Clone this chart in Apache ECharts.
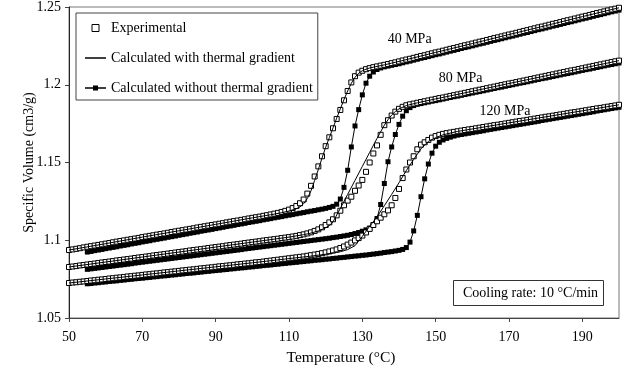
<!DOCTYPE html>
<html>
<head>
<meta charset="utf-8">
<script src="https://cdn.jsdelivr.net/npm/echarts@6/dist/echarts.min.js"></script>
<style>
  html, body { margin: 0; padding: 0; background: #fff; }
  #chart { width: 624px; height: 372px; }
</style>
</head>
<body>
<div id="chart"></div>
<script>
// Specific volume vs temperature, cooling at 10 °C/min, three holding pressures.
// Measured and "without gradient" curves are sampled every 1 °C starting at their first temperature.

const expStartT = 50;
const calcStartT = 55;
const stepT = 1;

// Experimental, 40 MPa (50..200 °C)
const exp40 = [
  1.0937,1.0941,1.0945,1.0949,1.0954,1.0958,1.0962,1.0966,1.0970,1.0974,
  1.0978,1.0982,1.0987,1.0991,1.0995,1.0999,1.1003,1.1007,1.1011,1.1015,
  1.1020,1.1024,1.1028,1.1032,1.1036,1.1040,1.1044,1.1048,1.1053,1.1057,
  1.1061,1.1065,1.1069,1.1073,1.1077,1.1082,1.1086,1.1090,1.1094,1.1098,
  1.1102,1.1106,1.1110,1.1115,1.1119,1.1123,1.1127,1.1131,1.1135,1.1140,
  1.1144,1.1148,1.1152,1.1157,1.1161,1.1166,1.1171,1.1176,1.1182,1.1189,
  1.1197,1.1207,1.1220,1.1238,1.1262,1.1300,1.1350,1.1410,1.1475,1.1540,
  1.1605,1.1662,1.1720,1.1780,1.1838,1.1900,1.1960,1.2015,1.2055,1.2078,
  1.2090,1.2100,1.2107,1.2113,1.2118,1.2123,1.2128,1.2133,1.2139,1.2144,
  1.2150,1.2156,1.2162,1.2167,1.2173,1.2179,1.2185,1.2190,1.2196,1.2202,
  1.2208,1.2213,1.2219,1.2225,1.2231,1.2236,1.2242,1.2248,1.2254,1.2259,
  1.2265,1.2271,1.2277,1.2282,1.2288,1.2294,1.2300,1.2305,1.2311,1.2317,
  1.2323,1.2328,1.2334,1.2340,1.2346,1.2351,1.2357,1.2363,1.2369,1.2374,
  1.2380,1.2386,1.2392,1.2397,1.2403,1.2409,1.2415,1.2420,1.2426,1.2432,
  1.2438,1.2443,1.2449,1.2455,1.2461,1.2466,1.2472,1.2478,1.2484,1.2489,
  1.2495
];

// Experimental, 80 MPa (50..200 °C)
const exp80 = [
  1.0828,1.0831,1.0834,1.0838,1.0841,1.0844,1.0847,1.0850,1.0854,1.0857,
  1.0860,1.0863,1.0866,1.0870,1.0873,1.0876,1.0879,1.0882,1.0886,1.0889,
  1.0892,1.0895,1.0898,1.0902,1.0905,1.0908,1.0911,1.0914,1.0918,1.0921,
  1.0924,1.0927,1.0930,1.0934,1.0937,1.0940,1.0943,1.0946,1.0950,1.0953,
  1.0956,1.0959,1.0962,1.0966,1.0969,1.0972,1.0975,1.0978,1.0982,1.0985,
  1.0988,1.0991,1.0994,1.0998,1.1001,1.1004,1.1007,1.1010,1.1014,1.1017,
  1.1020,1.1024,1.1028,1.1033,1.1038,1.1044,1.1051,1.1060,1.1070,1.1083,
  1.1098,1.1115,1.1135,1.1160,1.1190,1.1225,1.1255,1.1280,1.1318,1.1352,
  1.1388,1.1440,1.1500,1.1558,1.1610,1.1678,1.1740,1.1772,1.1802,1.1827,
  1.1845,1.1858,1.1868,1.1874,1.1879,1.1884,1.1889,1.1894,1.1899,1.1904,
  1.1909,1.1914,1.1918,1.1923,1.1928,1.1933,1.1938,1.1943,1.1948,1.1953,
  1.1958,1.1963,1.1968,1.1973,1.1978,1.1983,1.1988,1.1993,1.1998,1.2003,
  1.2008,1.2012,1.2017,1.2022,1.2027,1.2032,1.2037,1.2042,1.2047,1.2052,
  1.2057,1.2062,1.2067,1.2072,1.2077,1.2082,1.2087,1.2092,1.2096,1.2101,
  1.2106,1.2111,1.2116,1.2121,1.2126,1.2131,1.2136,1.2141,1.2146,1.2151,
  1.2155
];

// Experimental, 120 MPa (50..200 °C)
const exp120 = [
  1.0725,1.0728,1.0730,1.0733,1.0735,1.0738,1.0741,1.0743,1.0746,1.0748,
  1.0751,1.0754,1.0756,1.0759,1.0761,1.0764,1.0767,1.0769,1.0772,1.0774,
  1.0777,1.0780,1.0782,1.0785,1.0787,1.0790,1.0793,1.0795,1.0798,1.0800,
  1.0803,1.0806,1.0808,1.0811,1.0813,1.0816,1.0819,1.0821,1.0824,1.0826,
  1.0829,1.0832,1.0834,1.0837,1.0839,1.0842,1.0845,1.0847,1.0850,1.0852,
  1.0855,1.0858,1.0860,1.0863,1.0866,1.0869,1.0872,1.0875,1.0878,1.0881,
  1.0884,1.0887,1.0890,1.0893,1.0896,1.0900,1.0904,1.0908,1.0912,1.0917,
  1.0922,1.0928,1.0934,1.0941,1.0950,1.0960,1.0972,1.0985,1.0999,1.1014,
  1.1030,1.1050,1.1073,1.1098,1.1122,1.1145,1.1167,1.1192,1.1225,1.1272,
  1.1330,1.1400,1.1455,1.1500,1.1540,1.1585,1.1615,1.1630,1.1645,1.1660,
  1.1670,1.1678,1.1684,1.1689,1.1693,1.1697,1.1701,1.1705,1.1709,1.1713,
  1.1716,1.1720,1.1724,1.1728,1.1732,1.1736,1.1740,1.1743,1.1747,1.1751,
  1.1755,1.1759,1.1763,1.1767,1.1770,1.1774,1.1778,1.1782,1.1786,1.1790,
  1.1794,1.1797,1.1801,1.1805,1.1809,1.1813,1.1817,1.1821,1.1824,1.1828,
  1.1832,1.1836,1.1840,1.1844,1.1848,1.1851,1.1855,1.1859,1.1863,1.1867,
  1.1871
];

// Calculated without thermal gradient, 40 MPa (55..200 °C)
const noGrad40 = [
  1.0924,1.0928,1.0933,1.0937,1.0941,
  1.0946,1.0950,1.0954,1.0958,1.0963,1.0967,1.0971,1.0976,1.0980,1.0984,
  1.0989,1.0993,1.0997,1.1002,1.1006,1.1010,1.1014,1.1019,1.1023,1.1027,
  1.1032,1.1036,1.1040,1.1045,1.1049,1.1053,1.1058,1.1062,1.1066,1.1070,
  1.1075,1.1079,1.1083,1.1088,1.1092,1.1096,1.1101,1.1105,1.1109,1.1114,
  1.1118,1.1122,1.1126,1.1131,1.1135,1.1139,1.1144,1.1148,1.1152,1.1157,
  1.1161,1.1165,1.1170,1.1174,1.1178,1.1183,1.1187,1.1191,1.1196,1.1200,
  1.1205,1.1211,1.1218,1.1232,1.1265,1.1340,1.1450,1.1600,1.1735,1.1840,
  1.1935,1.2010,1.2055,1.2082,1.2098,1.2108,1.2115,1.2120,1.2125,1.2130,
  1.2135,1.2141,1.2147,1.2152,1.2158,1.2164,1.2170,1.2175,1.2181,1.2187,
  1.2193,1.2198,1.2204,1.2210,1.2216,1.2221,1.2227,1.2233,1.2239,1.2244,
  1.2250,1.2256,1.2262,1.2267,1.2273,1.2279,1.2285,1.2290,1.2296,1.2302,
  1.2308,1.2313,1.2319,1.2325,1.2331,1.2336,1.2342,1.2348,1.2354,1.2359,
  1.2365,1.2371,1.2377,1.2382,1.2388,1.2394,1.2400,1.2405,1.2411,1.2417,
  1.2423,1.2428,1.2434,1.2440,1.2446,1.2451,1.2457,1.2463,1.2469,1.2474,
  1.2480
];

// Calculated without thermal gradient, 80 MPa (55..200 °C)
const noGrad80 = [
  1.0813,1.0816,1.0819,1.0822,1.0825,
  1.0828,1.0831,1.0834,1.0837,1.0840,1.0843,1.0846,1.0849,1.0853,1.0856,
  1.0859,1.0862,1.0865,1.0868,1.0871,1.0874,1.0877,1.0880,1.0883,1.0886,
  1.0889,1.0892,1.0895,1.0898,1.0901,1.0904,1.0907,1.0910,1.0913,1.0916,
  1.0919,1.0922,1.0925,1.0928,1.0931,1.0934,1.0937,1.0940,1.0944,1.0947,
  1.0950,1.0953,1.0956,1.0959,1.0962,1.0965,1.0968,1.0971,1.0974,1.0977,
  1.0980,1.0983,1.0986,1.0989,1.0992,1.0995,1.0998,1.1001,1.1004,1.1007,
  1.1010,1.1013,1.1017,1.1020,1.1024,1.1028,1.1032,1.1037,1.1043,1.1050,
  1.1058,1.1067,1.1078,1.1095,1.1140,1.1230,1.1365,1.1505,1.1600,1.1680,
  1.1745,1.1798,1.1833,1.1853,1.1866,1.1874,1.1879,1.1884,1.1889,1.1894,
  1.1898,1.1903,1.1908,1.1913,1.1918,1.1923,1.1927,1.1932,1.1937,1.1942,
  1.1947,1.1952,1.1956,1.1961,1.1966,1.1971,1.1976,1.1981,1.1985,1.1990,
  1.1995,1.2000,1.2005,1.2010,1.2014,1.2019,1.2024,1.2029,1.2034,1.2039,
  1.2043,1.2048,1.2053,1.2058,1.2063,1.2068,1.2072,1.2077,1.2082,1.2087,
  1.2092,1.2097,1.2101,1.2106,1.2111,1.2116,1.2121,1.2126,1.2130,1.2135,
  1.2140
];

// Calculated without thermal gradient, 120 MPa (55..200 °C)
const noGrad120 = [
  1.0720,1.0722,1.0725,1.0727,1.0730,
  1.0732,1.0735,1.0737,1.0739,1.0742,1.0744,1.0747,1.0749,1.0752,1.0754,
  1.0756,1.0759,1.0761,1.0764,1.0766,1.0769,1.0771,1.0773,1.0776,1.0778,
  1.0781,1.0783,1.0786,1.0788,1.0790,1.0793,1.0795,1.0798,1.0800,1.0803,
  1.0805,1.0807,1.0810,1.0812,1.0815,1.0817,1.0820,1.0822,1.0824,1.0827,
  1.0829,1.0832,1.0834,1.0837,1.0839,1.0841,1.0844,1.0846,1.0849,1.0851,
  1.0854,1.0856,1.0858,1.0861,1.0863,1.0866,1.0868,1.0871,1.0873,1.0875,
  1.0878,1.0880,1.0883,1.0885,1.0888,1.0890,1.0893,1.0895,1.0898,1.0900,
  1.0903,1.0905,1.0908,1.0911,1.0914,1.0917,1.0921,1.0924,1.0927,1.0931,
  1.0935,1.0941,1.0953,1.0988,1.1060,1.1160,1.1280,1.1395,1.1490,1.1560,
  1.1605,1.1630,1.1645,1.1655,1.1663,1.1670,1.1676,1.1680,1.1684,1.1688,
  1.1692,1.1696,1.1700,1.1704,1.1709,1.1713,1.1717,1.1721,1.1725,1.1729,
  1.1733,1.1737,1.1741,1.1745,1.1749,1.1753,1.1757,1.1761,1.1765,1.1770,
  1.1774,1.1778,1.1782,1.1786,1.1790,1.1794,1.1798,1.1802,1.1806,1.1810,
  1.1814,1.1818,1.1822,1.1826,1.1831,1.1835,1.1839,1.1843,1.1847,1.1851,
  1.1855
];

// Calculated with thermal gradient: [temperature °C, specific volume cm3/g]
const grad40 = [
  [50,1.0937],[60,1.0978],[70,1.1020],[80,1.1061],[90,1.1102],[100,1.1144],
  [105,1.1164],[108,1.1177],[110,1.1188],[112,1.1203],[113,1.1215],[114,1.1235],
  [115,1.1268],[116,1.1318],[117,1.1385],[118,1.1455],[119,1.1528],[120,1.1598],
  [121,1.1660],[122,1.1722],[123,1.1785],[124,1.1845],[125,1.1905],[126,1.1960],
  [127,1.2010],[128,1.2048],[129,1.2074],[130,1.2090],[131,1.2100],[132,1.2108],
  [134,1.2118],[136,1.2128],[138,1.2139],[140,1.2150],[150,1.2208],[160,1.2265],
  [170,1.2323],[180,1.2380],[190,1.2438],[200,1.2495]
];
const grad80 = [
  [50,1.0828],[60,1.0860],[70,1.0892],[80,1.0924],[90,1.0956],[100,1.0988],
  [110,1.1020],[114,1.1036],[116,1.1046],[118,1.1060],[120,1.1080],[121,1.1095],
  [122,1.1118],[124,1.1205],[126,1.1295],[128,1.1385],[130,1.1475],[132,1.1565],
  [134,1.1655],[136,1.1740],[137,1.1775],[138,1.1805],[139,1.1828],[140,1.1845],
  [142,1.1866],[145,1.1884],[150,1.1909],[160,1.1958],[170,1.2008],[180,1.2057],
  [190,1.2106],[200,1.2155]
];
const grad120 = [
  [50,1.0725],[60,1.0751],[70,1.0777],[80,1.0803],[90,1.0829],[100,1.0855],
  [110,1.0882],[116,1.0898],[120,1.0910],[124,1.0926],[126,1.0940],[128,1.0965],
  [130,1.1025],[132,1.1090],[134,1.1150],[136,1.1222],[138,1.1295],[140,1.1370],
  [142,1.1448],[144,1.1520],[146,1.1588],[148,1.1635],[150,1.1660],[152,1.1678],
  [156,1.1700],[170,1.1755],[185,1.1813],[200,1.1871]
];

// Pressure labels, placed in data coordinates next to their curves
const pressureLabels = [
  { text: '40 MPa',  t: 142.9, v: 1.2295 },
  { text: '80 MPa',  t: 156.8, v: 1.2040 },
  { text: '120 MPa', t: 168.9, v: 1.1828 }
];

const xTicks = { min: 50, max: 200, step: 20 };
const yTicks = { min: 1.05, max: 1.25, step: 0.05 };

const NAME_EXP = 'Experimental';
const NAME_GRAD = 'Calculated with thermal gradient';
const NAME_NOGRAD = 'Calculated without thermal gradient';

const SERIF = "'Liberation Serif', 'Times New Roman', serif";

function sampled(values, t0) {
  return values.map((v, i) => [t0 + i * stepT, v]);
}

function noGradSeries(values) {
  return {
    name: NAME_NOGRAD, type: 'line', data: sampled(values, calcStartT),
    symbol: 'rect', symbolSize: 5, showAllSymbol: true,
    itemStyle: { color: '#000' },
    lineStyle: { color: '#000', width: 1 },
    z: 2
  };
}
function expSeries(values) {
  return {
    name: NAME_EXP, type: 'scatter', data: sampled(values, expStartT),
    symbol: 'rect', symbolSize: 5,
    itemStyle: { color: '#fff', borderColor: '#000', borderWidth: 1, opacity: 1 },
    z: 3
  };
}
function gradSeries(points) {
  return {
    name: NAME_GRAD, type: 'line', data: points,
    symbol: 'none', smooth: false,
    itemStyle: { color: '#000' },
    lineStyle: { color: '#000', width: 1 },
    z: 4
  };
}

// Legend keys: open square, plain line, line with a filled square
const ICON_OPEN_SQUARE = 'path://M0,0L6,0L6,6L0,6Z';
const ICON_LINE = 'path://M0,0L21,0L21,1.5L0,1.5Z';
const ICON_LINE_SQUARE = 'path://M0,1.75L8,1.75L8,0L13,0L13,1.75L21,1.75L21,3.25L13,3.25L13,5L8,5L8,3.25L0,3.25Z';

const chart = echarts.init(document.getElementById('chart'), null, { renderer: 'canvas' });

chart.setOption({
  animation: false,
  backgroundColor: '#fff',
  textStyle: { fontFamily: SERIF, color: '#000' },
  grid: {
    left: 69, right: 5, top: 7, bottom: 54,
    show: true, borderColor: '#777', borderWidth: 1, backgroundColor: 'transparent'
  },
  legend: {
    data: [
      { name: NAME_EXP, icon: ICON_OPEN_SQUARE,
        itemStyle: { color: '#fff', borderColor: '#000', borderWidth: 1 } },
      { name: NAME_GRAD, icon: ICON_LINE,
        itemStyle: { color: '#000', borderWidth: 0 } },
      { name: NAME_NOGRAD, icon: ICON_LINE_SQUARE,
        itemStyle: { color: '#000', borderWidth: 0 } }
    ],
    orient: 'vertical',
    left: 76, top: 13,
    padding: [8, 5, 5, 9],
    itemWidth: 21, itemHeight: 7, itemGap: 16,
    borderColor: '#444', borderWidth: 1,
    backgroundColor: '#fff',
    textStyle: { fontFamily: SERIF, fontSize: 14, color: '#000' },
    selectedMode: false
  },
  xAxis: {
    type: 'value',
    min: xTicks.min, max: xTicks.max, interval: xTicks.step,
    name: 'Temperature (°C)', nameLocation: 'middle', nameGap: 32,
    nameTextStyle: { fontFamily: SERIF, fontSize: 15.5, color: '#000', padding: [0, 6, 0, 0] },
    axisLine: { show: true, onZero: false, lineStyle: { color: '#444', width: 1 } },
    axisTick: { show: true, inside: false, length: 4, lineStyle: { color: '#444' } },
    axisLabel: { fontFamily: SERIF, fontSize: 14, color: '#000', margin: 12, showMaxLabel: false },
    splitLine: { show: false }
  },
  yAxis: {
    type: 'value',
    min: yTicks.min, max: yTicks.max, interval: yTicks.step,
    name: 'Specific Volume (cm3/g)', nameLocation: 'middle', nameGap: 33,
    nameMoveOverlap: false,
    nameTextStyle: { fontFamily: SERIF, fontSize: 14, color: '#000' },
    axisLine: { show: true, onZero: false, lineStyle: { color: '#222', width: 1 } },
    axisTick: { show: true, inside: false, length: 4, lineStyle: { color: '#444' } },
    axisLabel: { fontFamily: SERIF, fontSize: 14, color: '#000', margin: 8 },
    splitLine: { show: false }
  },
  series: [
    noGradSeries(noGrad40), noGradSeries(noGrad80), noGradSeries(noGrad120),
    expSeries(exp40), expSeries(exp80), expSeries(exp120),
    gradSeries(grad40), gradSeries(grad80), gradSeries(grad120)
  ]
});

// Annotations: pressure labels anchored to data positions, and the cooling-rate note box
const graphics = pressureLabels.map(p => {
  const [px, py] = chart.convertToPixel({ gridIndex: 0 }, [p.t, p.v]);
  return {
    type: 'text', x: px, y: py, z: 10,
    style: { text: p.text, fontFamily: SERIF, fontSize: 14, fill: '#000',
             textAlign: 'center', textVerticalAlign: 'middle' }
  };
});
graphics.push({
  type: 'group', right: 20, bottom: 66, z: 10,
  children: [
    { type: 'rect', shape: { x: 0, y: 0, width: 150, height: 25 },
      style: { fill: '#fff', stroke: '#333', lineWidth: 1 } },
    { type: 'text', x: 77, y: 12.5,
      style: { text: 'Cooling rate: 10 °C/min', fontFamily: SERIF, fontSize: 14, fill: '#000',
               textAlign: 'center', textVerticalAlign: 'middle' } }
  ]
});
chart.setOption({ graphic: graphics });
</script>
</body>
</html>
